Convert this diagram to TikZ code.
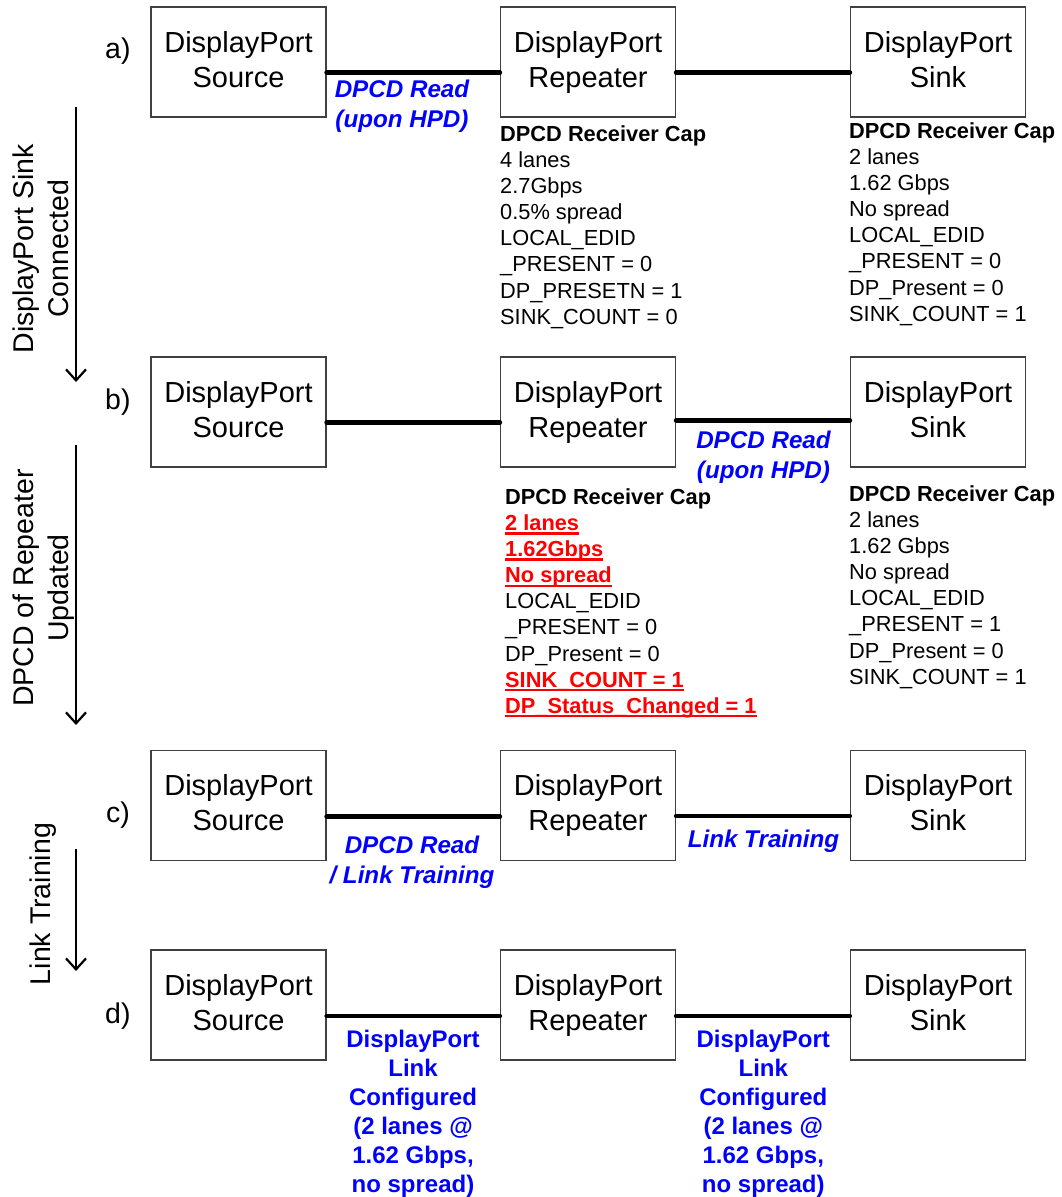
\documentclass[tikz,border=0pt]{standalone}
\usepackage{fontspec}
\setmainfont{Liberation Sans}
\usetikzlibrary{arrows.meta}
\definecolor{dpblue}{RGB}{0,0,255}
\definecolor{dpred}{RGB}{255,0,0}
\newcommand\redfix[1]{{\color{dpred}\bfseries\setbox0\hbox{#1}\rlap{\rule[-4pt]{\wd0}{2.2pt}}\box0}}
\begin{document}
\begin{tikzpicture}[x=1pt,y=-1pt,
devbox/.style={draw=black!75,line width=1.2pt,minimum width=175pt,minimum height=110pt,inner sep=0pt,align=center,font=\fontsize{29}{35}\selectfont,execute at end node=\vphantom{p}},
wire/.style={line width=4.5pt,line cap=round},
hint/.style={text=dpblue,align=center,inner sep=0pt,anchor=north,font=\bfseries\itshape\fontsize{24.2}{29.5}\selectfont},
cfg/.style={hint,font=\bfseries\fontsize{24}{29}\selectfont},
capinfo/.style={align=left,inner sep=0pt,anchor=north west,font=\fontsize{21.8}{26.1}\selectfont},
rowtag/.style={anchor=base west,inner sep=0pt,font=\fontsize{28.5}{35}\selectfont},
phaselabel/.style={rotate=90,align=center,inner sep=0pt,anchor=north,font=\fontsize{28.5}{35}\selectfont},
flowarrow/.style={line width=2.2pt,-{Straight Barb[length=11pt,width=20pt]}}
]
\useasboundingbox (0,0) rectangle (1062,1197);
\node[phaselabel] (phA) at (12.5,249) {DisplayPort Sink\\Connected};
\node[phaselabel] (phB) at (12.5,588) {DPCD of Repeater\\Updated};
\node[phaselabel,anchor=base] (phC) at (50.5,904) {Link Training};
\coordinate (flA1) at (76,107);
\coordinate (flA2) at (76,382);
\coordinate (flB1) at (76,445);
\coordinate (flB2) at (76,725);
\coordinate (flC1) at (76,849);
\coordinate (flC2) at (76,971);
\draw[flowarrow] (flA1) -- (flA2);
\draw[flowarrow] (flB1) -- (flB2);
\draw[flowarrow] (flC1) -- (flC2);
\node[rowtag] (tagA) at (105,58) {a)};
\node[rowtag] (tagB) at (105,409) {b)};
\node[rowtag] (tagC) at (106,822) {c)};
\node[rowtag] (tagD) at (105,1023) {d)};
\node[devbox] (srcA) at (238.5,62) {DisplayPort\\Source};
\node[devbox] (rptA) at (588,62) {DisplayPort\\Repeater};
\node[devbox] (snkA) at (938,62) {DisplayPort\\Sink};
\node[devbox] (srcB) at (238.5,412) {DisplayPort\\Source};
\node[devbox] (rptB) at (588,412) {DisplayPort\\Repeater};
\node[devbox] (snkB) at (938,412) {DisplayPort\\Sink};
\node[devbox] (srcC) at (238.5,805.5) {DisplayPort\\Source};
\node[devbox] (rptC) at (588,805.5) {DisplayPort\\Repeater};
\node[devbox] (snkC) at (938,805.5) {DisplayPort\\Sink};
\node[devbox] (srcD) at (238.5,1005) {DisplayPort\\Source};
\node[devbox] (rptD) at (588,1005) {DisplayPort\\Repeater};
\node[devbox] (snkD) at (938,1005) {DisplayPort\\Sink};
\draw[wire] ([yshift=-10.5pt]srcA.east) -- ([yshift=-10.5pt]rptA.west);
\draw[wire] ([yshift=-10.5pt]rptA.east) -- ([yshift=-10.5pt]snkA.west);
\draw[wire] ([yshift=-10.5pt]srcB.east) -- ([yshift=-10.5pt]rptB.west);
\draw[wire] ([yshift=-8.5pt]rptB.east) -- ([yshift=-8.5pt]snkB.west);
\draw[wire] ([yshift=-11pt]srcC.east) -- ([yshift=-11pt]rptC.west);
\draw[wire] ([yshift=-10.5pt]rptC.east) -- ([yshift=-10.5pt]snkC.west);
\draw[wire] ([yshift=-11pt]srcD.east) -- ([yshift=-11pt]rptD.west);
\draw[wire] ([yshift=-11pt]rptD.east) -- ([yshift=-11pt]snkD.west);
\node[hint] (hintA) at (402,80) {DPCD Read\\(upon HPD)};
\node[hint] (hintB) at (763.5,431) {DPCD Read\\(upon HPD)};
\node[hint] (hintC1) at (412,836) {DPCD Read\\/ Link Training};
\node[hint] (hintC2) at (763.5,830) {Link Training};
\node[cfg] (cfgD1) at (413,1030) {DisplayPort\\Link\\Configured\\(2 lanes @\\1.62 Gbps,\\no spread)};
\node[cfg] (cfgD2) at (763.3,1030) {DisplayPort\\Link\\Configured\\(2 lanes @\\1.62 Gbps,\\no spread)};
\node[capinfo] (capRA) at (500,125.4) {\textbf{DPCD Receiver Cap}\\4 lanes\\2.7Gbps\\0.5\% spread\\LOCAL\_EDID\\\_PRESENT = 0\\DP\_PRESETN = 1\\SINK\_COUNT = 0};
\node[capinfo] (capSA) at (849,122.4) {\textbf{DPCD Receiver Cap}\\2 lanes\\1.62 Gbps\\No spread\\LOCAL\_EDID\\\_PRESENT = 0\\DP\_Present = 0\\SINK\_COUNT = 1};
\node[capinfo] (capRB) at (505,488.4) {\textbf{DPCD Receiver Cap}\\\redfix{2 lanes}\\\redfix{1.62Gbps}\\\redfix{No spread}\\LOCAL\_EDID\\\_PRESENT = 0\\DP\_Present = 0\\\redfix{SINK\_COUNT = 1}\\\redfix{DP\_Status\_Changed = 1}};
\node[capinfo] (capSB) at (849,485.4) {\textbf{DPCD Receiver Cap}\\2 lanes\\1.62 Gbps\\No spread\\LOCAL\_EDID\\\_PRESENT = 1\\DP\_Present = 0\\SINK\_COUNT = 1};
\end{tikzpicture}
\end{document}
